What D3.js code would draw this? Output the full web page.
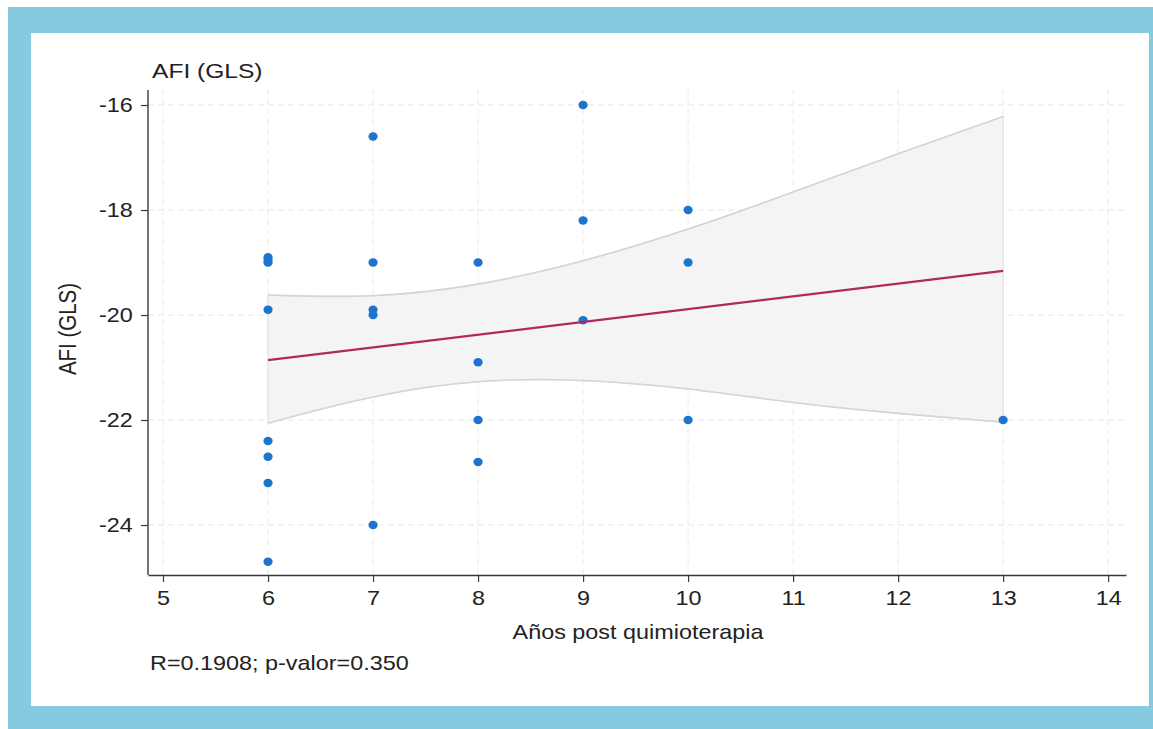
<!DOCTYPE html>
<html>
<head>
<meta charset="utf-8">
<script src="https://cdn.jsdelivr.net/npm/d3@7"></script>
<style>
  html, body { margin: 0; padding: 0; background: #ffffff; }
  svg { display: block; }
  text { font-family: "Liberation Sans", Arial, sans-serif; fill: #222222; }
</style>
</head>
<body>
<svg id="chart" width="1153" height="729"></svg>
<script>
// ---------- data ----------
const years = [6,6,6,6,6,6,6,6, 7,7,7,7,7, 8,8,8,8, 9,9,9, 10,10,10, 13];
const afi   = [-18.9,-18.95,-19.0,-19.9,-22.4,-22.7,-23.2,-24.7,
               -16.6,-19.0,-19.9,-20.0,-24.0,
               -19.0,-20.9,-22.0,-22.8,
               -16.0,-18.2,-20.1,
               -18.0,-19.0,-22.0,
               -22.0];
const fitX = [6, 13];
const fitY = [-20.86, -19.16];
const ciX     = [6, 7, 8, 9, 10, 11, 12, 13];
const ciUpper = [-19.62, -19.68, -19.45, -18.99, -18.38, -17.66, -16.92, -16.22];
const ciLower = [-22.06, -21.52, -21.22, -21.22, -21.39, -21.68, -21.88, -22.04];
const xTicks = [5,6,7,8,9,10,11,12,13,14];
const yTicks = [-24,-22,-20,-18,-16];
const titleText = "AFI (GLS)";
const yTitle = "AFI (GLS)";
const xTitle = "Años post quimioterapia";
const footer = "R=0.1908; p-valor=0.350";

// ---------- layout ----------
const svg = d3.select("#chart");
const SX = 1.17; // horizontal stretch of the reference image text

svg.append("rect").attr("x", 8).attr("y", 7).attr("width", 1145).attr("height", 722).attr("fill", "#87c9de");
svg.append("rect").attr("x", 31).attr("y", 33).attr("width", 1118).attr("height", 673).attr("fill", "#ffffff");

const x = d3.scaleLinear().domain([4.857, 14.17]).range([148, 1126]);
const y = d3.scaleLinear().domain([-24.952, -15.714]).range([575, 90]);

// grid
const grid = svg.append("g");
grid.selectAll("line.h").data(yTicks).join("line")
  .attr("x1", x.range()[0]).attr("x2", x.range()[1])
  .attr("y1", d => y(d)).attr("y2", d => y(d))
  .attr("stroke", "#e8e8e8").attr("stroke-width", 1.2).attr("stroke-dasharray", "6,4");
grid.selectAll("line.v").data(xTicks).join("line")
  .attr("y1", y.range()[0]).attr("y2", y.range()[1])
  .attr("x1", d => x(d)).attr("x2", d => x(d))
  .attr("stroke", "#eeeeee").attr("stroke-width", 1.2).attr("stroke-dasharray", "6,4");

// confidence band
const band = ciX.map((v, i) => ({x: v, lo: ciLower[i], hi: ciUpper[i]}));
const area = d3.area().x(d => x(d.x)).y0(d => y(d.lo)).y1(d => y(d.hi)).curve(d3.curveBasis);
svg.append("path").datum(band).attr("d", area)
  .attr("fill", "#f4f4f4").attr("stroke", "#e2e2e8").attr("stroke-width", 1.2);
const lineHi = d3.line().x(d => x(d.x)).y(d => y(d.hi)).curve(d3.curveBasis);
const lineLo = d3.line().x(d => x(d.x)).y(d => y(d.lo)).curve(d3.curveBasis);
svg.append("path").datum(band).attr("d", lineHi).attr("fill", "none").attr("stroke", "#d4d4dc").attr("stroke-width", 1.6);
svg.append("path").datum(band).attr("d", lineLo).attr("fill", "none").attr("stroke", "#d4d4dc").attr("stroke-width", 1.6);

// points
svg.append("g").selectAll("ellipse").data(years.map((v, i) => [v, afi[i]])).join("ellipse")
  .attr("cx", d => x(d[0])).attr("cy", d => y(d[1]))
  .attr("rx", 4.6).attr("ry", 4.2)
  .attr("fill", "#1c74cc");

// fit line
svg.append("path").datum(fitX.map((v, i) => [v, fitY[i]]))
  .attr("d", d3.line().x(d => x(d[0])).y(d => y(d[1])))
  .attr("fill", "none").attr("stroke", "#b02862").attr("stroke-width", 2.2);

// axes
const xAxis = svg.append("g").attr("transform", `translate(0,${y.range()[0]})`)
  .call(d3.axisBottom(x).tickValues(xTicks).tickSize(7).tickPadding(9).tickSizeOuter(0));
const yAxis = svg.append("g").attr("transform", `translate(${x.range()[0]},0)`)
  .call(d3.axisLeft(y).tickValues(yTicks).tickFormat(d => d).tickSize(7).tickPadding(6).tickSizeOuter(0));
[xAxis, yAxis].forEach(a => {
  a.select(".domain").attr("stroke", "#3a3a3a").attr("stroke-width", 1.4);
  a.selectAll(".tick line").attr("stroke", "#3a3a3a").attr("stroke-width", 1.2);
  a.selectAll(".tick text").attr("font-size", 20).attr("fill", "#222222")
    .style("font-family", "'Liberation Sans', Arial, sans-serif");
});
xAxis.selectAll(".tick text").attr("transform", `scale(${SX},1)`);
yAxis.selectAll(".tick text").attr("transform", `scale(${SX},1)`);
yAxis.select(".domain").attr("d", `M0,${y.range()[0]}V${y.range()[1]}`);

// texts
svg.append("text").attr("transform", `translate(152,78) scale(${SX},1)`)
  .attr("font-size", 21).text(titleText);
svg.append("text").attr("transform", `translate(76,329) scale(${SX},1) rotate(-90)`)
  .attr("text-anchor", "middle").attr("font-size", 20.5).text(yTitle);
svg.append("text").attr("transform", `translate(638,639) scale(${SX},1)`)
  .attr("text-anchor", "middle").attr("font-size", 20).text(xTitle);
svg.append("text").attr("transform", `translate(150,670) scale(${SX},1)`)
  .attr("font-size", 20).text(footer);
</script>
</body>
</html>
